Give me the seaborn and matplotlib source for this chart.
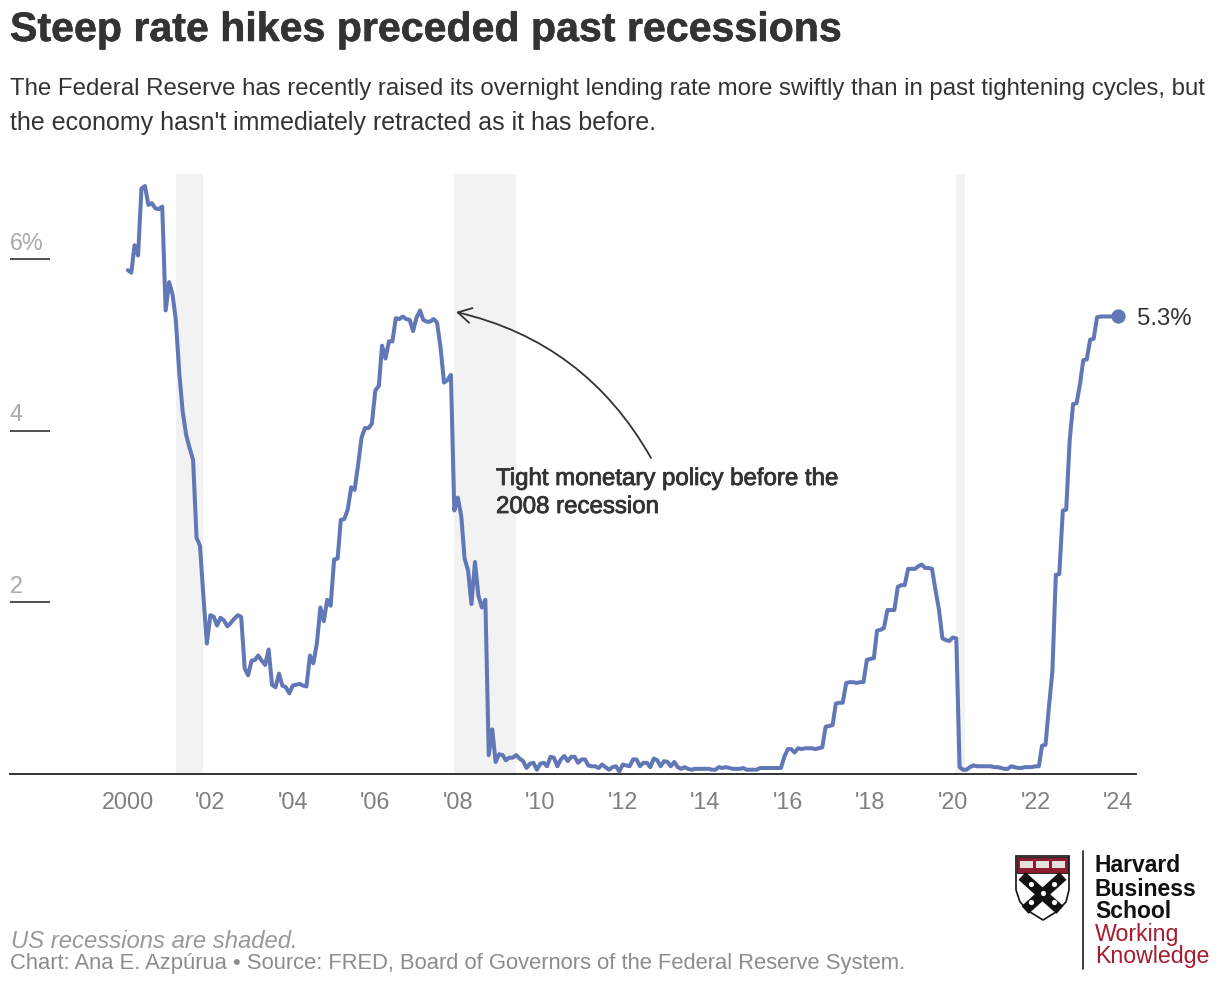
import pandas as pd
import seaborn as sns
import matplotlib.pyplot as plt
import matplotlib.patheffects as pe
from matplotlib.patches import Polygon, Rectangle

# Monthly rate (%), one list per year
y2000 = [5.87, 5.84, 6.16, 6.04, 6.82, 6.85, 6.63, 6.65, 6.59, 6.58, 6.61, 5.40]
y2001 = [5.73, 5.58, 5.29, 4.67, 4.22, 3.95, 3.80, 3.66, 2.75, 2.66, 2.06, 1.52]
y2002 = [1.85, 1.83, 1.73, 1.82, 1.79, 1.72, 1.76, 1.81, 1.85, 1.83, 1.23, 1.15]
y2003 = [1.32, 1.33, 1.38, 1.32, 1.27, 1.45, 1.04, 1.01, 1.17, 1.03, 1.01, 0.94]
y2004 = [1.03, 1.04, 1.05, 1.03, 1.02, 1.38, 1.29, 1.52, 1.94, 1.78, 2.03, 1.96]
y2005 = [2.50, 2.51, 2.96, 2.97, 3.08, 3.34, 3.31, 3.60, 3.92, 4.03, 4.03, 4.08]
y2006 = [4.47, 4.52, 4.99, 4.84, 5.04, 5.04, 5.31, 5.30, 5.33, 5.30, 5.29, 5.16]
y2007 = [5.32, 5.40, 5.29, 5.27, 5.27, 5.30, 5.26, 4.97, 4.56, 4.59, 4.65, 3.07]
y2008 = [3.22, 3.00, 2.51, 2.37, 1.98, 2.47, 2.08, 1.94, 2.03, 0.22, 0.52, 0.14]
y2009 = [0.23, 0.22, 0.16, 0.19, 0.19, 0.22, 0.18, 0.15, 0.07, 0.12, 0.13, 0.05]
y2010 = [0.12, 0.13, 0.09, 0.20, 0.19, 0.09, 0.17, 0.21, 0.15, 0.20, 0.20, 0.13]
y2011 = [0.17, 0.17, 0.10, 0.09, 0.09, 0.07, 0.11, 0.08, 0.05, 0.08, 0.09, 0.03]
y2012 = [0.11, 0.10, 0.09, 0.17, 0.17, 0.09, 0.13, 0.13, 0.08, 0.18, 0.16, 0.09]
y2013 = [0.15, 0.14, 0.09, 0.14, 0.08, 0.06, 0.08, 0.06, 0.05, 0.06, 0.06, 0.06]
y2014 = [0.06, 0.06, 0.05, 0.05, 0.08, 0.07, 0.08, 0.07, 0.06, 0.06, 0.06, 0.07]
y2015 = [0.05, 0.05, 0.05, 0.05, 0.07, 0.07, 0.07, 0.07, 0.07, 0.07, 0.07, 0.20]
y2016 = [0.29, 0.29, 0.25, 0.30, 0.29, 0.30, 0.30, 0.30, 0.29, 0.30, 0.31, 0.55]
y2017 = [0.56, 0.57, 0.82, 0.83, 0.83, 1.06, 1.07, 1.07, 1.06, 1.07, 1.07, 1.33]
y2018 = [1.34, 1.35, 1.67, 1.68, 1.70, 1.91, 1.91, 1.91, 2.18, 2.20, 2.20, 2.39]
y2019 = [2.39, 2.39, 2.42, 2.44, 2.40, 2.40, 2.39, 2.14, 1.91, 1.58, 1.56, 1.55]
y2020 = [1.59, 1.58, 0.08, 0.05, 0.05, 0.08, 0.10, 0.09, 0.09, 0.09, 0.09, 0.09]
y2021 = [0.08, 0.08, 0.07, 0.06, 0.06, 0.09, 0.08, 0.07, 0.07, 0.08, 0.08, 0.08]
y2022 = [0.09, 0.09, 0.33, 0.34, 0.78, 1.20, 2.32, 2.33, 3.07, 3.08, 3.89, 4.31]
y2023 = [4.32, 4.55, 4.82, 4.83, 5.06, 5.07, 5.32, 5.33, 5.33, 5.33, 5.33, 5.33]
y2024 = [5.33]

recessions = [("2001-03-01", "2001-11-01"), ("2007-12-01", "2009-06-01"), ("2020-02-01", "2020-04-15")]
x_ticks = ["2000", "2002", "2004", "2006", "2008", "2010", "2012", "2014", "2016", "2018", "2020", "2022", "2024"]
x_labels = ["2000", "'02", "'04", "'06", "'08", "'10", "'12", "'14", "'16", "'18", "'20", "'22", "'24"]
y_ticks = [2, 4, 6]
y_labels = ["2", "4", "6%"]

rates = (y2000 + y2001 + y2002 + y2003 + y2004 + y2005 + y2006 + y2007 + y2008 + y2009 + y2010 + y2011
         + y2012 + y2013 + y2014 + y2015 + y2016 + y2017 + y2018 + y2019 + y2020 + y2021 + y2022 + y2023 + y2024)
df = pd.DataFrame({"date": pd.date_range("2000-01-01", periods=len(rates), freq="MS"), "rate": rates})

BLUE = "#6277b6"
DARK = "#333333"
CRIMSON = "#a51c30"

sns.set_theme(style="white")
plt.rcParams["font.family"] = ["Liberation Sans", "DejaVu Sans"]

W, H = 1220, 986
fig = plt.figure(figsize=(W / 100, H / 100), dpi=100, facecolor="white")
ax = fig.add_axes([10 / W, 1 - 774 / H, 1126 / W, 600 / H])

for start, end in recessions:
    ax.axvspan(pd.Timestamp(start), pd.Timestamp(end), color="#f2f2f2", lw=0, zorder=0)

sns.lineplot(data=df, x="date", y="rate", estimator=None, color=BLUE, linewidth=2.9,
             solid_joinstyle="round", ax=ax, zorder=3)
sns.scatterplot(data=df.tail(1), x="date", y="rate", color=BLUE, s=105, linewidth=0, ax=ax, zorder=4, clip_on=False)

ax.set_xlim(pd.Timestamp("1997-02-22"), pd.Timestamp("2024-06-10"))
ax.set_ylim(0, 6.99)
ax.set_xlabel("")
ax.set_ylabel("")
ax.set_facecolor("none")
ax.set_xticks([pd.Timestamp(t + "-01-01") for t in x_ticks])
ax.set_xticklabels(x_labels)
ax.set_yticks([])
ax.tick_params(axis="x", length=0, pad=12, labelsize=16.8, labelcolor="#808080")
sns.despine(ax=ax, left=True)
ax.spines["bottom"].set_color(DARK)
ax.spines["bottom"].set_linewidth(1.4)

# short rules over the y labels
ax.hlines(y_ticks, 0, 40 / 1126, transform=ax.get_yaxis_transform(), color=DARK, lw=1.2, clip_on=False)
for val, lab in zip(y_ticks, y_labels):
    ax.annotate(lab, (0, val), xycoords=ax.get_yaxis_transform(), xytext=(0, 3), textcoords="offset points",
                fontsize=16.8, color="#aaaaaa", ha="left", va="bottom")

# end label
ax.annotate("5.3%", (df["date"].iloc[-1], rates[-1]), xytext=(13.5, -1.5), textcoords="offset points",
            fontsize=17.3, color=DARK, va="center", ha="left", annotation_clip=False)

# overlay in pixel coordinates for the furniture
ov = fig.add_axes([0, 0, 1, 1], facecolor="none")
ov.set_xlim(0, W)
ov.set_ylim(H, 0)
ov.axis("off")

ov.text(10, 30, "Steep rate hikes preceded past recessions", fontsize=29.6, fontweight="bold", color=DARK,
        va="center", path_effects=[pe.withStroke(linewidth=0.4, foreground=DARK)])
ov.text(10, 89, "The Federal Reserve has recently raised its overnight lending rate more swiftly than in past tightening cycles, but",
        fontsize=17.3, color=DARK, va="center")
ov.text(10, 123, "the economy hasn't immediately retracted as it has before.", fontsize=18, color=DARK, va="center")

note_fx = [pe.withStroke(linewidth=0.6, foreground=DARK)]
ov.text(496, 479, "Tight monetary policy before the", fontsize=17.3, color=DARK, va="center", path_effects=note_fx)
ov.text(496, 507, "2008 recession", fontsize=17.3, color=DARK, va="center", path_effects=note_fx)
ov.annotate("", xy=(456, 312), xytext=(651, 458),
            arrowprops=dict(arrowstyle="->,head_length=0.8,head_width=0.45", color=DARK, lw=1.3,
                            connectionstyle="arc3,rad=0.22", shrinkA=0, shrinkB=0))

ov.text(11, 941, "US recessions are shaded.", fontsize=17.2, style="italic", color="#999999", va="center")
ov.text(10, 963, "Chart: Ana E. Azpúrua • Source: FRED, Board of Governors of the Federal Reserve System.",
        fontsize=15.85, color="#8c8c8c", va="center")

# logo
ov.plot([1083, 1083], [851, 969], color=DARK, lw=1.3)
for yy, word in zip([866, 889, 911], ["Harvard", "Business", "School"]):
    ov.text(1095, yy, word, fontsize=16.5, fontweight="bold", color="#111111", va="center")
for yy, word in zip([934, 957], ["Working", "Knowledge"]):
    ov.text(1095, yy, word, fontsize=16.7, color=CRIMSON, va="center")

shield = [(1016, 856), (1069, 856), (1069, 890), (1066, 902), (1056, 912), (1043, 920),
          (1030, 912), (1020, 902), (1016, 890)]
outline = Polygon(shield, closed=True, facecolor="white", edgecolor="#111111", lw=1.2)
ov.add_patch(outline)
ov.add_patch(Rectangle((1017, 857), 51, 16, facecolor="#8c1c30", edgecolor="#111111", lw=0.6))
for x0 in [1020, 1036, 1052]:
    ov.add_patch(Rectangle((x0, 861), 13, 7, facecolor="#e8dcdc", edgecolor="none"))
ov.plot([1022, 1060], [876, 910], color="#111111", lw=7.5, solid_capstyle="butt")
ov.plot([1063, 1025], [876, 910], color="#111111", lw=7.5, solid_capstyle="butt")
ov.scatter([1031, 1054, 1043, 1031, 1054], [884, 884, 893, 902, 902], s=14, color="white", linewidths=0, zorder=5)

fig.savefig("out.png", dpi=100)
